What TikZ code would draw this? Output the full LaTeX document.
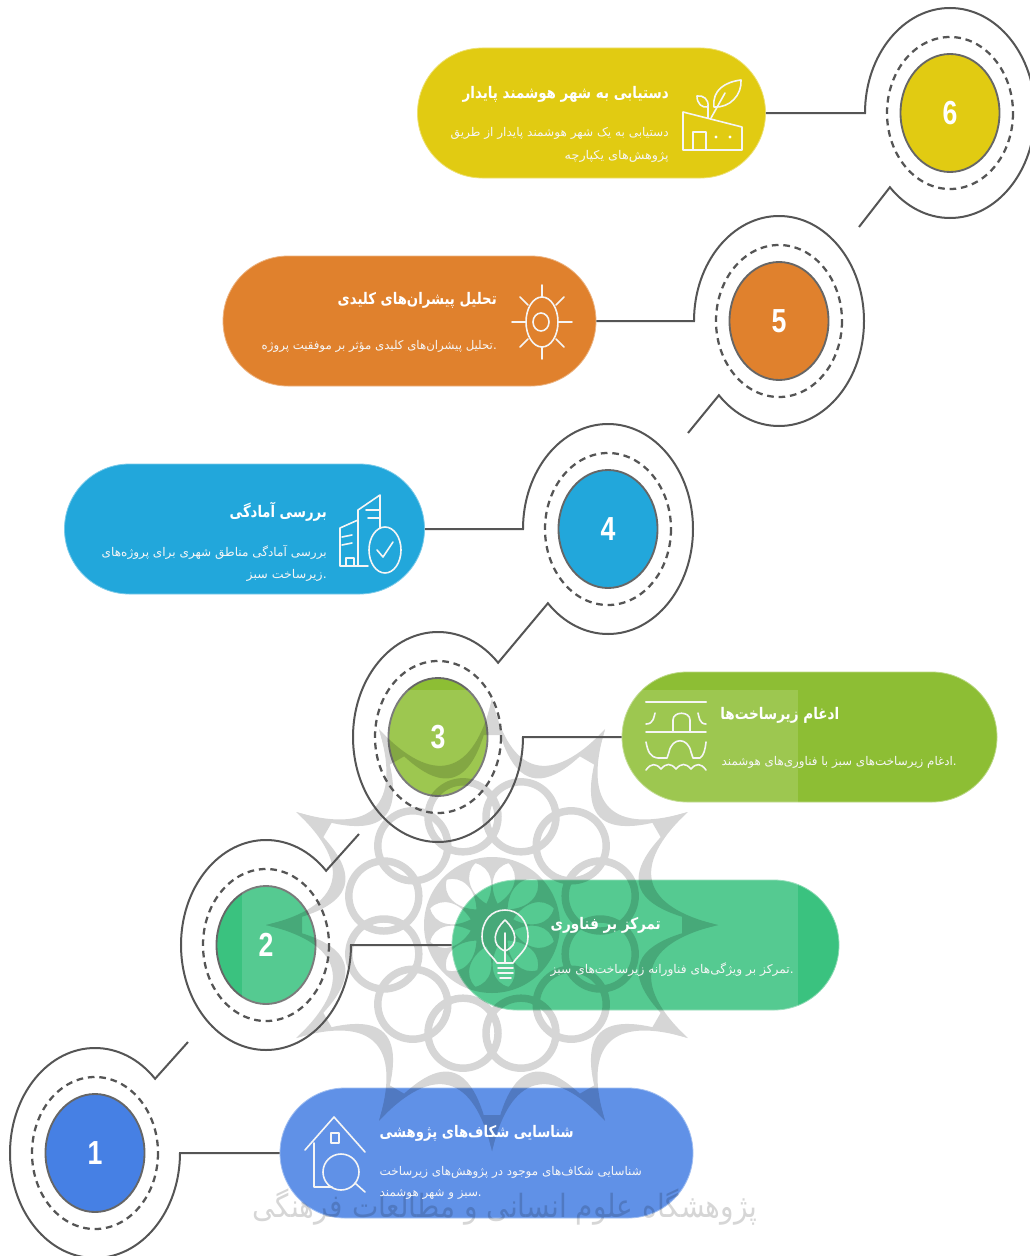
\documentclass[tikz,border=0pt]{standalone}
\usepackage{fontspec}
\usepackage{graphicx}
\usetikzlibrary{shapes.geometric,shapes.misc}
\TeXXeTstate=1
\newfontfamily\perfont[Script=Arabic]{DejaVu Sans}
\newfontfamily\numfont[FakeStretch=.8]{Liberation Sans}
\newdimen\pxu \pxu=.75pt
\newcommand{\fa}[2]{\resizebox{#1\pxu}{\height}{#2}}
\definecolor{cA}{HTML}{4680E4}
\definecolor{cB}{HTML}{3AC27F}
\definecolor{cC}{HTML}{8DBE34}
\definecolor{cD}{HTML}{22A7DB}
\definecolor{cE}{HTML}{E0812D}
\definecolor{cF}{HTML}{E1CB12}
\definecolor{lineg}{HTML}{555555}
\tikzset{
  pillbox/.style={rounded rectangle,inner sep=0pt,minimum width=#1*\pxu,minimum height=130*\pxu},
  numdisc/.style={ellipse,inner sep=0pt,minimum width=99*\pxu,minimum height=118*\pxu,draw=lineg!90,line width=1.4pt,text=white,font=\numfont\bfseries\fontsize{25}{25}\selectfont},
  ringline/.style={draw=lineg,line width=1.5pt,line join=miter},
  dashring/.style={draw=lineg,line width=1.7pt,dash pattern=on 5pt off 3.6pt},
  iconline/.style={draw=white!92!gray,line width=1.2pt,line cap=round,line join=round},
  headtxt/.style={text=white,inner sep=0pt,font=\perfont\bfseries\fontsize{12}{12}\selectfont},
  bodytxt/.style={text=white!93!gray,inner sep=0pt,font=\perfont\fontsize{9}{9}\selectfont},
}
\begin{document}
\begin{tikzpicture}[x=.75pt,y=.75pt,yscale=-1]
\useasboundingbox (0,0) rectangle (1030,1256);
\fill[white] (0,0) rectangle (1030,1256);
% pills
\node[pillbox=348,fill=cF,draw=cF!60!white,line width=.6pt] (p6) at (591.5,113) {};
\node[pillbox=373,fill=cE,draw=cE!60!white,line width=.6pt] (p5) at (409.5,321) {};
\node[pillbox=360,fill=cD,draw=cD!60!white,line width=.6pt] (p4) at (244.5,529) {};
\node[pillbox=375,fill=cC,draw=cC!60!white,line width=.6pt] (p3) at (809.5,737) {};
\node[pillbox=387,fill=cB,draw=cB!60!white,line width=.6pt] (p2) at (645.5,945) {};
\node[pillbox=413,fill=cA,draw=cA!60!white,line width=.6pt] (p1) at (486.5,1153) {};
% number discs
\node[numdisc,fill=cF] (c6) at (950,113) {6};
\node[numdisc,fill=cE] (c5) at (779,321) {5};
\node[numdisc,fill=cD] (c4) at (608,529) {4};
\node[numdisc,fill=cC] (c3) at (438,737) {3};
\node[numdisc,fill=cB] (c2) at (266,945) {2};
\node[numdisc,fill=cA] (c1) at (95,1153) {1};
% pale veil and rosette of the watermark
\fill[white,opacity=.14] (242,690) rectangle (798,1240);
\begin{scope}[transparency group,opacity=.16]
 \begin{scope}[shift={(492,925)}]
  \fill[black,even odd rule] (0,0) circle (68)
    \foreach \a in {15,45,...,345}{
      (\a:22) .. controls ({\a+21}:40) and ({\a+14}:58) .. (\a:64) .. controls ({\a-14}:58) and ({\a-21}:40) .. (\a:22)
    };
  \foreach \a in {0,30,...,330}{
    \draw[black,line width=5.6pt] ({\a+15}:112) circle (35);
    \fill[black] (\a:226) .. controls ({\a+7}:150) and ({\a+23}:150) .. ({\a+30}:226)
                 .. controls ({\a+23}:132) and ({\a+7}:132) .. (\a:226) -- cycle;
    \begin{scope}[rotate=\a]
      \fill[black] (226,0) -- (190,9) -- (190,-9) -- cycle;
    \end{scope}
  }
 \end{scope}
 \node[inner sep=0pt,text=black,font=\perfont\fontsize{24}{24}\selectfont] (wm) at (505,1207)
   {\fa{505}{\beginR پژوهشگاه علوم انسانی و مطالعات فرهنگی\endR}};
\end{scope}
% dashed rings
\foreach \n in {1,...,6}{
  \draw[dashring] (c\n.center) ellipse [x radius=63,y radius=76];
}
% connectors and rings
\coordinate (r6) at (865,113);
\coordinate (f6) at (859,227);
\coordinate (r5) at (694,321);
\coordinate (f5) at (688,433);
\coordinate (r4) at (523,529);
\coordinate (v3) at (498.1,662.75);
\coordinate (v2) at (326.1,870.75);
\coordinate (f2) at (359,834);
\coordinate (v1) at (155.1,1078.75);
\coordinate (f1) at (188,1042);
\draw[ringline] (p6.east) -- (r6) arc[start angle=180,end angle=495,x radius=85,y radius=105] -- (f6);
\draw[ringline] (p5.east) -- (r5) arc[start angle=180,end angle=495,x radius=85,y radius=105] -- (f5);
\draw[ringline] (p4.east) -- (r4) arc[start angle=180,end angle=495,x radius=85,y radius=105] -- (v3)
   arc[start angle=315,end angle=0,x radius=85,y radius=105] -- (p3.west);
\draw[ringline] (f2) -- (v2) arc[start angle=315,end angle=0,x radius=85,y radius=105] -- (p2.west);
\draw[ringline] (f1) -- (v1) arc[start angle=315,end angle=0,x radius=85,y radius=105] -- (p1.west);
% texts
\node[headtxt,anchor=east] (t6) at (669,94) {\fa{206}{\beginR دستیابی به شهر هوشمند پایدار\endR}};
\node[bodytxt,anchor=east] (b6a) at (669,133) {\fa{218}{\beginR دستیابی به یک شهر هوشمند پایدار از طریق\endR}};
\node[bodytxt,anchor=east] (b6b) at (669,156) {\fa{104}{\beginR پژوهش‌های یکپارچه\endR}};
\node[headtxt,anchor=east] (t5) at (497,300) {\fa{159}{\beginR تحلیل پیشران‌های کلیدی\endR}};
\node[bodytxt,anchor=east] (b5a) at (497,346) {\fa{235}{\beginR .تحلیل پیشران‌های کلیدی مؤثر بر موفقیت پروژه\endR}};
\node[headtxt,anchor=east] (t4) at (327,512) {\fa{97}{\beginR بررسی آمادگی\endR}};
\node[bodytxt,anchor=east] (b4a) at (327,552) {\fa{225}{\beginR بررسی آمادگی مناطق شهری برای پروژه‌های\endR}};
\node[bodytxt,anchor=east] (b4b) at (327,575) {\fa{80}{\beginR .زیرساخت سبز\endR}};
\node[headtxt,anchor=west] (t3) at (720,715) {\fa{119}{\beginR ادغام زیرساخت‌ها\endR}};
\node[bodytxt,anchor=east] (b3a) at (957,762) {\fa{235}{\beginR .ادغام زیرساخت‌های سبز با فناوری‌های هوشمند\endR}};
\node[headtxt,anchor=east] (t2) at (661,925) {\fa{110}{\beginR تمرکز بر فناوری\endR}};
\node[bodytxt,anchor=east] (b2a) at (794,970) {\fa{243}{\beginR .تمرکز بر ویژگی‌های فناورانه زیرساخت‌های سبز\endR}};
\node[headtxt,anchor=east] (t1) at (574,1133) {\fa{194}{\beginR شناسایی شکاف‌های پژوهشی\endR}};
\node[bodytxt,anchor=east] (b1a) at (642,1172) {\fa{262}{\beginR شناسایی شکاف‌های موجود در پژوهش‌های زیرساخت\endR}};
\node[bodytxt,anchor=east] (b1b) at (482,1194) {\fa{102}{\beginR .سبز و شهر هوشمند\endR}};
% icon 6: plant on a house
\draw[iconline] (683,112) -- (683,150) -- (742,150) -- (742,127) -- cycle;
\draw[iconline] (693,150) -- (693,132) -- (706,132) -- (706,150);
\fill[white] (716,137) circle (1.6) (730,137) circle (1.6);
\draw[iconline] (714,107) .. controls (712,90) and (725,82) .. (741,80) .. controls (742,95) and (730,108) .. (714,107);
\draw[iconline] (708,107) .. controls (702,108) and (697,104) .. (697,96) .. controls (703,95) and (709,99) .. (708,107);
\draw[iconline] (708,118) -- (708,107) (711,118) -- (725,93);
% icon 5: sun
\draw[iconline] (542,322) ellipse [x radius=16,y radius=25];
\draw[iconline] (541,322) ellipse [x radius=8,y radius=9];
\draw[iconline] (542,285) -- (542,297) (542,347) -- (542,359) (512,322) -- (526,322) (558,322) -- (572,322)
  (520,297) -- (528,305) (564,297) -- (556,305) (520,347) -- (528,339) (564,347) -- (556,339);
% icon 4: buildings and a check
\draw[iconline] (340,566) -- (340,528) -- (358,520) (340,566) -- (368,566);
\draw[iconline] (358,566) -- (358,510) -- (380,495) -- (380,528);
\draw[iconline] (342,537) -- (352,535) (342,545) -- (352,543) (366,510) -- (380,510) (368,518) -- (380,518);
\draw[iconline] (346,566) -- (346,558) -- (354,558) -- (354,566);
\draw[iconline] (385,550) ellipse [x radius=16,y radius=23];
\draw[iconline] (377,550) -- (383,557) -- (393,542);
% icon 3: bridge
\draw[iconline,line width=1.6pt] (646,702) -- (706,702);
\draw[iconline] (646,732) -- (706,732);
\draw[iconline] (646,724) .. controls (654,724) and (654,716) .. (655,713);
\draw[iconline] (706,724) .. controls (699,724) and (699,716) .. (698,713);
\draw[iconline] (673,732) -- (673,720) .. controls (673,711) and (690,711) .. (690,720) -- (690,732);
\draw[iconline] (646,742) .. controls (648,752) and (650,757) .. (658,758) -- (667,758) -- (669,752) .. controls (672,737) and (688,737) .. (691,752) -- (693,758) -- (700,758) .. controls (704,755) and (705,750) .. (706,742);
\draw[iconline] (646,770) .. controls (651,763) and (656,763) .. (661,769) .. controls (666,763) and (671,763) .. (676,769) .. controls (681,763) and (686,763) .. (691,769) .. controls (696,763) and (701,763) .. (706,770);
% icon 2: bulb with a leaf
\draw[iconline] (497,963) .. controls (492,955) and (482,950) .. (482,937) .. controls (482,920) and (492,910) .. (505,910) .. controls (518,910) and (528,920) .. (528,937) .. controls (528,950) and (518,955) .. (513,963) -- cycle;
\draw[iconline] (505,920) .. controls (494,930) and (490,945) .. (505,951) .. controls (520,945) and (516,930) .. (505,920);
\draw[iconline] (505,933) -- (505,963);
\draw[iconline] (498,968) -- (513,968) (498,973) -- (513,973) (500,978) -- (511,978);
% icon 1: house and magnifier
\draw[iconline] (305,1150) -- (334,1117) -- (365,1152);
\draw[iconline] (331,1133) rectangle (339,1143);
\draw[iconline] (314,1143) -- (314,1187) -- (332,1187);
\draw[iconline] (341,1172) ellipse [x radius=18,y radius=18];
\draw[iconline] (355,1183) -- (365,1192);
\end{tikzpicture}
\end{document}
